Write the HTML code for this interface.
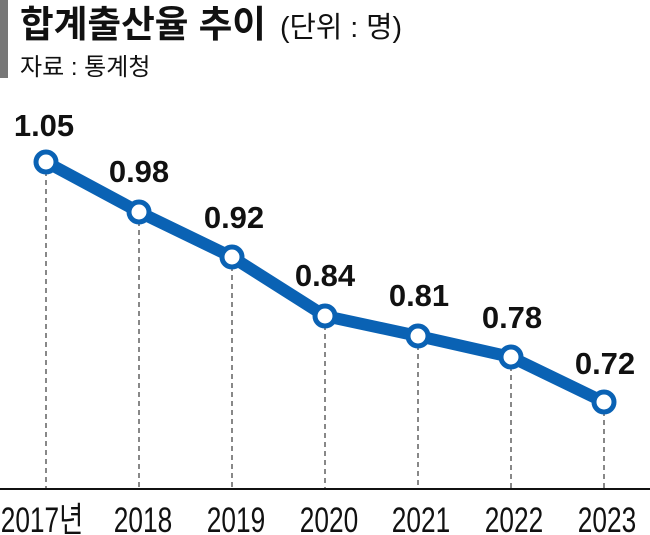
<!DOCTYPE html><html><head><meta charset="utf-8"><style>body{margin:0;background:#fff}svg{display:block}</style></head><body>
<svg width="650" height="535" xmlns="http://www.w3.org/2000/svg">
<rect x="0" y="0" width="8" height="78" fill="#777"/>
<text x="20" y="37" font-family="Liberation Sans, Noto Sans CJK KR, sans-serif" font-size="37" font-weight="bold" fill="#111" textLength="246" lengthAdjust="spacingAndGlyphs">합계출산율 추이</text>
<text x="280" y="37" font-family="Liberation Sans, Noto Sans CJK KR, sans-serif" font-size="29" fill="#111" textLength="122" lengthAdjust="spacingAndGlyphs">(단위 : 명)</text>
<text x="20" y="75" font-family="Liberation Sans, Noto Sans CJK KR, sans-serif" font-size="24" fill="#111">자료 : 통계청</text>
<line x1="0" y1="489" x2="650" y2="489" stroke="#111" stroke-width="2"/>
<g stroke="#111" stroke-width="1" stroke-dasharray="5,4">
<line x1="46" y1="162" x2="46" y2="489"/><line x1="139" y1="212" x2="139" y2="489"/><line x1="232" y1="257" x2="232" y2="489"/><line x1="325" y1="316" x2="325" y2="489"/><line x1="418" y1="336" x2="418" y2="489"/><line x1="511" y1="357" x2="511" y2="489"/><line x1="604" y1="402" x2="604" y2="489"/>
</g>
<polyline points="46,162 139,212 232,257 325,316 418,336 511,357 604,402" fill="none" stroke="#0a62b4" stroke-width="12" stroke-linejoin="round"/>
<g fill="#fff" stroke="#0a62b4" stroke-width="5">
<circle cx="46" cy="162" r="10"/><circle cx="139" cy="212" r="10"/><circle cx="232" cy="257" r="10"/><circle cx="325" cy="316" r="10"/><circle cx="418" cy="336" r="10"/><circle cx="511" cy="357" r="10"/><circle cx="604" cy="402" r="10"/>
</g>
<g font-family="Liberation Sans, sans-serif" font-size="31" font-weight="bold" fill="#111" text-anchor="middle">
<text x="44" y="136">1.05</text><text x="139" y="182">0.98</text><text x="234" y="228">0.92</text><text x="325" y="286">0.84</text><text x="419" y="306">0.81</text><text x="512" y="328">0.78</text><text x="605" y="374">0.72</text>
</g>
<g font-family="Liberation Sans, Noto Sans CJK KR, sans-serif" font-size="35" fill="#111" text-anchor="middle">
<text x="42" y="532" transform="translate(42,0) scale(0.75,1) translate(-42,0)">2017년</text>
<text x="143" y="532" transform="translate(143,0) scale(0.75,1) translate(-143,0)">2018</text>
<text x="236" y="532" transform="translate(236,0) scale(0.75,1) translate(-236,0)">2019</text>
<text x="329" y="532" transform="translate(329,0) scale(0.75,1) translate(-329,0)">2020</text>
<text x="421" y="532" transform="translate(421,0) scale(0.75,1) translate(-421,0)">2021</text>
<text x="514" y="532" transform="translate(514,0) scale(0.75,1) translate(-514,0)">2022</text>
<text x="607" y="532" transform="translate(607,0) scale(0.75,1) translate(-607,0)">2023</text>
</g>
</svg>
</body></html>
